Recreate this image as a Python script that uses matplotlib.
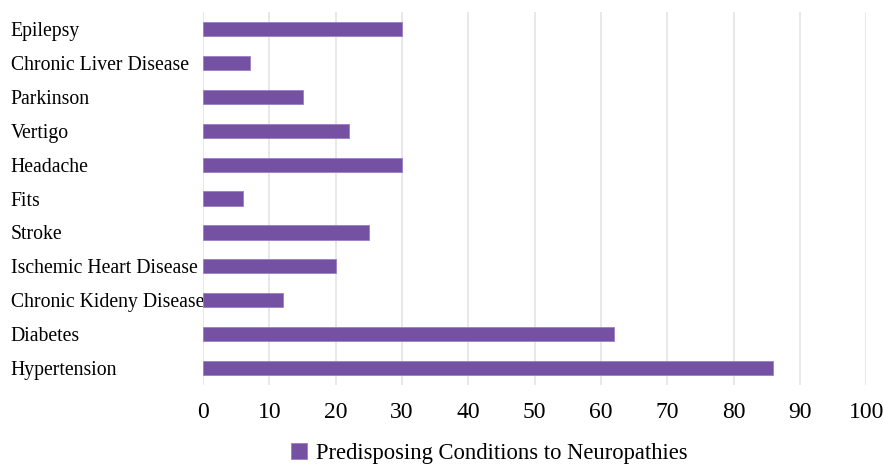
import matplotlib
matplotlib.use('Agg')
import matplotlib.pyplot as plt

plt.rcParams['font.family'] = ['Liberation Serif', 'DejaVu Serif']

conditions = ['Hypertension', 'Diabetes', 'Chronic Kideny Disease', 'Ischemic Heart Disease',
              'Stroke', 'Fits', 'Headache', 'Vertigo', 'Parkinson', 'Chronic Liver Disease',
              'Epilepsy']
values = [86, 62, 12, 20, 25, 6, 30, 22, 15, 7, 30]
xticks = list(range(0, 101, 10))

fig = plt.figure(figsize=(8.83, 4.65), dpi=100)
ax = fig.add_axes([0.23, 0.172, 0.751, 0.802])

ax.barh(range(len(conditions)), values, height=0.42, color='#7451a3',
        edgecolor='#9b7fc4', linewidth=0.6, label='Predisposing Conditions to Neuropathies',
        zorder=3)

ax.set_xlim(0, 100)
ax.set_ylim(-0.5, len(conditions) - 0.5)
ax.set_xticks(xticks)
ax.set_yticks(range(len(conditions)))
ax.set_yticklabels(conditions, fontsize=14.2)
for lab in ax.get_yticklabels():
    lab.set_ha('left')
ax.tick_params(axis='y', length=0, pad=138.5)
ax.tick_params(axis='x', length=0, pad=12, labelsize=17)
ax.grid(axis='x', color='#e6e6e6', linewidth=1.3, zorder=0)
for s in ax.spines.values():
    s.set_visible(False)

fig.legend(loc='lower center', bbox_to_anchor=(0.554, -0.042), frameon=False,
           fontsize=16.3, handlelength=0.7, handleheight=0.7, handletextpad=0.4)

fig.savefig('out.png', dpi=100)
